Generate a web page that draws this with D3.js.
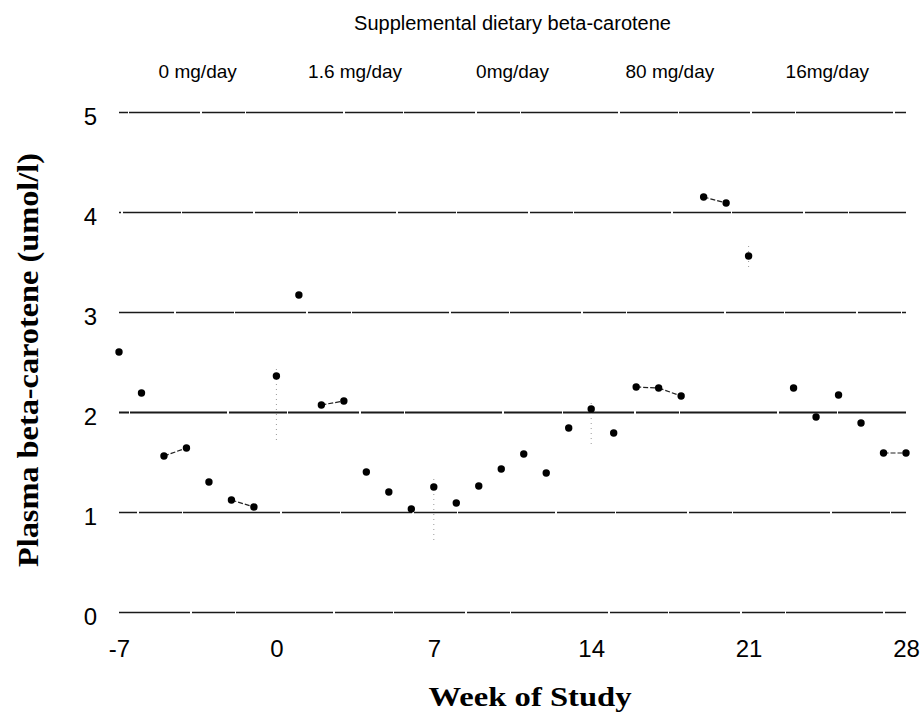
<!DOCTYPE html>
<html>
<head>
<meta charset="utf-8">
<script src="https://cdn.jsdelivr.net/npm/d3@7"></script>
<style>
  body { margin: 0; background: #fff; }
  svg { display: block; }
</style>
</head>
<body>
<script>
(function() {
const width = 924;
const height = 726;

// data
const weeks = [-7, -6, -5, -4, -3, -2, -1, 0, 1, 2, 3, 4, 5, 6, 7, 8, 9, 10, 11, 12, 13, 14,
  15, 16, 17, 18, 19, 20, 21, 23, 24, 25, 26, 27, 28];
const carotene = [2.60, 2.19, 1.56, 1.64, 1.30, 1.12, 1.05, 2.36, 3.17, 2.07, 2.11, 1.40, 1.20,
  1.03, 1.25, 1.09, 1.26, 1.43, 1.58, 1.39, 1.84, 2.03, 1.79, 2.25, 2.24, 2.16, 4.15, 4.09,
  3.56, 2.24, 1.95, 2.17, 1.89, 1.59, 1.59];
// short joining strokes that are visible on the scan
const joined = [[-5, -4], [-2, -1], [2, 3], [16, 17], [17, 18], [19, 20], [27, 28]];
// faint dotted range marks
const rangeWeeks = [0, 7, 14, 21];
const rangeLow = [1.72, 0.72, 1.68, 3.45];
const rangeHigh = [2.47, 1.35, 2.10, 3.70];

const doseLabels = ["0 mg/day", "1.6 mg/day", "0mg/day", "80 mg/day", "16mg/day"];
const doseMid = [-3.5, 3.5, 10.5, 17.5, 24.5];
const xTicks = [-7, 0, 7, 14, 21, 28];
const yTicks = [0, 1, 2, 3, 4, 5];

const margin = { top: 112, left: 119, right: 18, bottom: 114 };
const innerWidth = width - margin.left - margin.right;
const innerHeight = height - margin.top - margin.bottom;

const sans = "'Liberation Sans', Arial, sans-serif";
const serif = "'Liberation Serif', 'Times New Roman', serif";

const svg = d3.select("body").append("svg")
  .attr("width", width)
  .attr("height", height);

const x = d3.scaleLinear().domain([-7, 28]).range([0, innerWidth]);
const y = d3.scaleLinear().domain([0, 5]).range([innerHeight, 0]);

const g = svg.append("g").attr("transform", `translate(${margin.left},${margin.top})`);

// gridlines + y tick labels
const yAxis = g.append("g")
  .call(d3.axisLeft(y).tickValues(yTicks).tickFormat((d) => String(d))
    .tickSizeInner(-innerWidth).tickSizeOuter(0).tickPadding(22));
yAxis.select(".domain").remove();
yAxis.selectAll(".tick line")
  .attr("stroke", "#1a1a1a")
  .attr("stroke-width", (d) => d === 2 ? 2 : 1.3)
  .attr("stroke-dasharray", "71,2,43,1,97,2,58,1")
  .attr("stroke-dashoffset", (d) => d * 53);
yAxis.selectAll(".tick text")
  .attr("fill", "#000")
  .attr("dy", "0.5em")
  .style("font-family", sans)
  .style("font-size", "24px");

// x tick labels
const xAxis = g.append("g")
  .attr("transform", `translate(0,${innerHeight})`)
  .call(d3.axisBottom(x).tickValues(xTicks).tickFormat((d) => String(d))
    .tickSize(0).tickPadding(28));
xAxis.select(".domain").remove();
xAxis.selectAll(".tick text")
  .attr("fill", "#000")
  .style("font-family", sans)
  .style("font-size", "24px");

// faint range marks
g.selectAll(".range")
  .data(rangeWeeks)
  .join("line")
  .attr("class", "range")
  .attr("x1", (d) => x(d))
  .attr("x2", (d) => x(d))
  .attr("y1", (d, i) => y(rangeLow[i]))
  .attr("y2", (d, i) => y(rangeHigh[i]))
  .attr("stroke", "#9a9a9a")
  .attr("stroke-width", 1)
  .attr("stroke-dasharray", "1,4");

// joining strokes
const valueAt = (w) => carotene[weeks.indexOf(w)];
g.selectAll(".join")
  .data(joined)
  .join("line")
  .attr("class", "join")
  .attr("x1", (d) => x(d[0]))
  .attr("y1", (d) => y(valueAt(d[0])))
  .attr("x2", (d) => x(d[1]))
  .attr("y2", (d) => y(valueAt(d[1])))
  .attr("stroke", "#222")
  .attr("stroke-width", 1.2)
  .attr("stroke-dasharray", "5,2");

// points
g.selectAll(".pt")
  .data(weeks)
  .join("circle")
  .attr("class", "pt")
  .attr("cx", (d) => x(d))
  .attr("cy", (d, i) => y(carotene[i]))
  .attr("r", 3.7)
  .attr("fill", "#000");

// top title and doses
svg.append("text")
  .attr("x", margin.left + x(10.5))
  .attr("y", 30)
  .attr("text-anchor", "middle")
  .style("font-family", sans)
  .style("font-size", "20px")
  .text("Supplemental dietary beta-carotene");

svg.append("g")
  .selectAll("text")
  .data(doseLabels)
  .join("text")
  .attr("x", (d, i) => margin.left + x(doseMid[i]))
  .attr("y", 78)
  .attr("text-anchor", "middle")
  .style("font-family", sans)
  .style("font-size", "19px")
  .text((d) => d);

// axis titles
svg.append("text")
  .attr("x", 530)
  .attr("y", 706)
  .attr("text-anchor", "middle")
  .attr("textLength", 203)
  .attr("lengthAdjust", "spacingAndGlyphs")
  .style("font-family", serif)
  .style("font-weight", "bold")
  .style("font-size", "28px")
  .text("Week of Study");

svg.append("text")
  .attr("transform", "translate(38,360) rotate(-90)")
  .attr("text-anchor", "middle")
  .attr("textLength", 414)
  .attr("lengthAdjust", "spacingAndGlyphs")
  .style("font-family", serif)
  .style("font-weight", "bold")
  .style("font-size", "30px")
  .text("Plasma beta-carotene (umol/l)");
}());
</script>
</body>
</html>
